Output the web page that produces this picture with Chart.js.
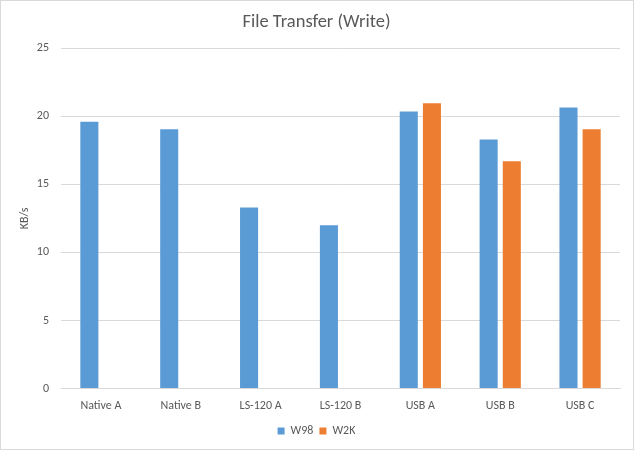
<!DOCTYPE html>
<html>
<head>
<meta charset="utf-8">
<script src="https://cdn.jsdelivr.net/npm/chart.js@4"></script>
<style>
  html, body { margin: 0; padding: 0; background: #fff; }
  body { width: 637px; height: 452px; position: relative; overflow: hidden; }
  #frame { position: absolute; left: 0; top: 0; width: 634px; height: 450px; box-sizing: border-box; border: 1px solid #d9d9d9; }
  #wrap { position: absolute; left: 0; top: 0; width: 632px; height: 448px; }
</style>
</head>
<body>
<div id="frame"><div id="wrap"><canvas id="chart"></canvas></div></div>
<script>
const categories = ['Native A', 'Native B', 'LS-120 A', 'LS-120 B', 'USB A', 'USB B', 'USB C'];
const w98 = [19.6, 19.05, 13.3, 12.0, 20.35, 18.3, 20.65];
const w2k = [null, null, null, null, 20.95, 16.7, 19.05];
const yTicks = [0, 5, 10, 15, 20, 25];

const FONT = 'Calibri, Carlito, "Liberation Sans", Arial, sans-serif';
const TXT = '#595959';
const GRID = '#d9d9d9';

new Chart(document.getElementById('chart'), {
  type: 'bar',
  data: {
    labels: categories,
    datasets: [
      { label: 'W98', data: w98, backgroundColor: '#5b9bd5', categoryPercentage: 0.58, barPercentage: 0.78 },
      { label: 'W2K', data: w2k, backgroundColor: '#ed7d31', categoryPercentage: 0.58, barPercentage: 0.78 }
    ]
  },
  options: {
    responsive: true, maintainAspectRatio: false, animation: false,
    layout: { padding: { top: 8, right: 13, left: 12, bottom: 2 } },
    plugins: {
      title: { display: true, text: 'File Transfer (Write)', color: TXT, font: { family: FONT, size: 18.5, weight: 'normal' }, padding: { top: 2, bottom: 15 } },
      legend: { position: 'bottom', labels: { color: TXT, font: { family: FONT, size: 12 }, boxWidth: 7, boxHeight: 7, padding: 6 } },
      tooltip: { enabled: false }
    },
    scales: {
      x: {
        afterFit: ax => { ax.height += 4; },
        grid: { display: false },
        border: { display: true, color: GRID },
        ticks: { color: TXT, font: { family: FONT, size: 12 }, padding: 2 }
      },
      y: {
        min: 0, max: 25,
        afterBuildTicks: ax => { ax.ticks = yTicks.map(v => ({ value: v })); },
        afterFit: ax => { ax.width = 48; },
        grid: { color: GRID, drawTicks: false },
        border: { display: false },
        ticks: { color: TXT, font: { family: FONT, size: 12 }, padding: 12 },
        title: { display: true, text: 'KB/s', color: TXT, font: { family: FONT, size: 12 }, padding: { top: 5, bottom: 0 } }
      }
    }
  }
});
</script>
</body>
</html>
